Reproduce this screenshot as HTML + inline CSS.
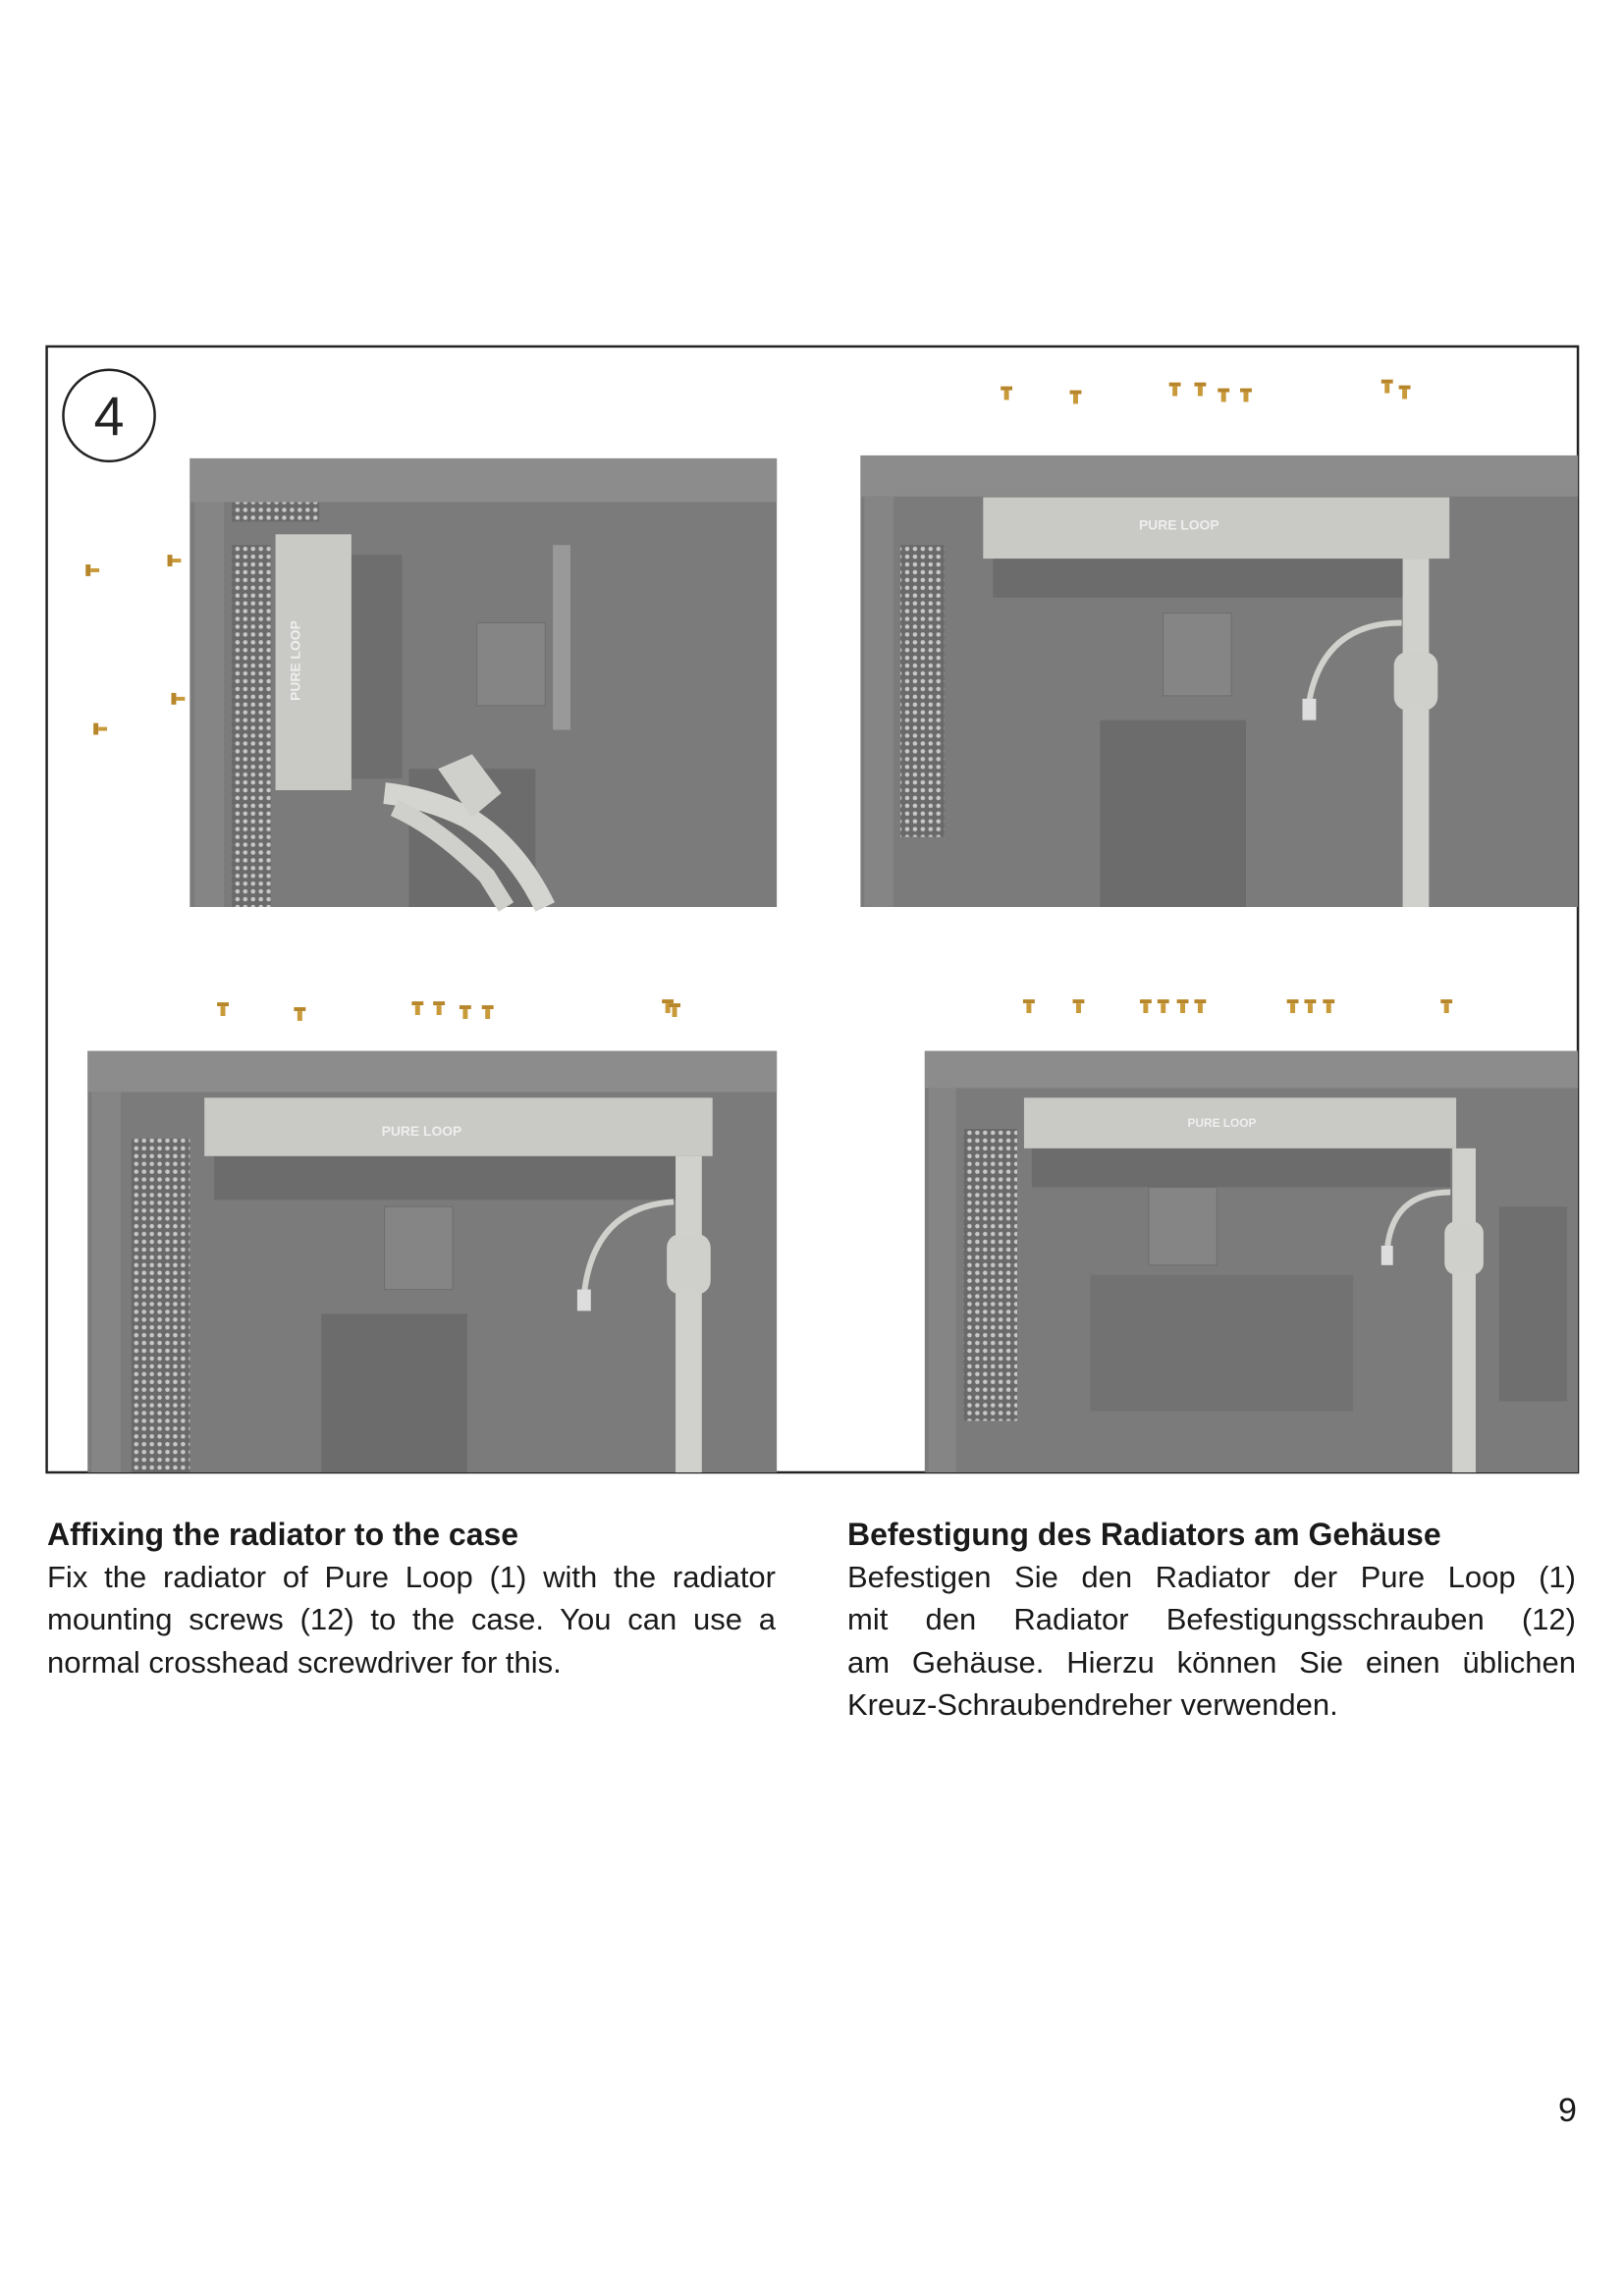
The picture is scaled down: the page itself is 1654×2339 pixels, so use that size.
<!DOCTYPE html>
<html><head><meta charset="utf-8"><style>
html,body{margin:0;padding:0;background:#fff}
body{width:1654px;height:2339px;position:relative;overflow:hidden;font-family:"Liberation Sans",Arial,sans-serif;color:#1a1a1a}
svg{position:absolute;left:0;top:0}
.col{position:absolute;font-size:31px;line-height:43.2px}
.col h3{margin:0;font-size:32px;font-weight:bold;line-height:43.2px;white-space:nowrap}
.col .j{text-align:justify;text-align-last:justify;white-space:nowrap}
.col .l{white-space:nowrap}
#pn{position:absolute;left:1587px;top:2131px;font-size:34px}
</style></head><body>
<svg width="1654" height="2339" viewBox="0 0 1654 2339">
<defs>
<pattern id="mesh" width="8" height="8" patternUnits="userSpaceOnUse"><rect width="8" height="8" fill="#6a6a6a"/><circle cx="4" cy="4" r="2.3" fill="#c8c8c8"/></pattern>
<g id="scr"><rect x="-6" y="-7" width="12" height="4" fill="#b8862a"/><rect x="-2.5" y="-3" width="5" height="10" fill="#c99a3a"/></g>
<g id="scrh"><rect x="-4" y="-6" width="5" height="12" fill="#b8862a"/><rect x="1" y="-2" width="9" height="4" fill="#c99a3a"/></g>
</defs>
<g transform="scale(0.9914)">
<rect x="48" y="356" width="1573" height="1157" fill="none" stroke="#222" stroke-width="2.5"/>
<circle cx="112" cy="427" r="47" fill="#fff" stroke="#222" stroke-width="2.5"/>
<text x="112" y="447" font-size="56" text-anchor="middle" font-family="Liberation Sans,sans-serif" fill="#222">4</text>

<g>
<rect x="195" y="471" width="603" height="461" fill="#7b7b7b"/>
<rect x="195" y="471" width="603" height="45" fill="#8c8c8c"/>
<rect x="200" y="516" width="30" height="416" fill="#858585"/>
<rect x="238" y="560" width="40" height="372" fill="url(#mesh)"/>
<rect x="238" y="516" width="90" height="20" fill="url(#mesh)"/>
<rect x="490" y="640" width="70" height="85" fill="#858585" stroke="#6e6e6e"/>
<rect x="568" y="560" width="18" height="190" fill="#999"/>
<rect x="420" y="790" width="130" height="142" fill="#6c6c6c"/>
<rect x="361" y="570" width="52" height="230" fill="#6e6e6e"/>
<rect x="283" y="549" width="78" height="263" fill="#c9c9c6"/>
<text x="308" y="720" font-size="14" fill="#eee" transform="rotate(-90 308 720)" font-weight="bold">PURE LOOP</text>
<path d="M395 815 Q440 820 480 840 Q530 870 560 932" stroke="#d4d4d0" stroke-width="22" fill="none"/>
<path d="M405 830 Q450 850 500 900 L520 932" stroke="#cfcfcb" stroke-width="18" fill="none"/>
<path d="M450 790 l35 -15 30 40 -30 25 z" fill="#cfcfcb"/>
</g>
<use href="#scrh" x="92" y="586"/><use href="#scrh" x="176" y="576"/><use href="#scrh" x="180" y="718"/><use href="#scrh" x="100" y="749"/>

<g>
<rect x="884" y="468" width="737" height="464" fill="#7b7b7b"/>
<rect x="884" y="468" width="737" height="42" fill="#8c8c8c"/>
<rect x="888" y="510" width="30" height="422" fill="#858585"/>
<rect x="925" y="560" width="45" height="300" fill="url(#mesh)"/>
<rect x="1020" y="574" width="430" height="40" fill="#6c6c6c"/>
<rect x="1195" y="630" width="70" height="85" fill="#858585" stroke="#6e6e6e"/>
<rect x="1130" y="740" width="150" height="192" fill="#6c6c6c"/>
<rect x="1010" y="511" width="479" height="63" fill="#c9c9c6"/>
<text x="1170" y="544" font-size="14" fill="#eee" font-weight="bold">PURE LOOP</text>
<rect x="1441" y="574" width="27" height="358" fill="#d0d0cc"/>
<rect x="1432" y="670" width="45" height="60" rx="14" fill="#cfcfcb"/>
<path d="M1440 640 Q1360 640 1345 720" stroke="#d0d0cc" stroke-width="6" fill="none"/>
<rect x="1338" y="718" width="14" height="22" fill="#ddd"/>
</g>
<use href="#scr" x="1034" y="404"/><use href="#scr" x="1105" y="408"/><use href="#scr" x="1207" y="400"/><use href="#scr" x="1233" y="400"/><use href="#scr" x="1257" y="406"/><use href="#scr" x="1280" y="406"/><use href="#scr" x="1425" y="397"/><use href="#scr" x="1443" y="403"/>

<g>
<rect x="90" y="1080" width="708" height="433" fill="#7b7b7b"/>
<rect x="90" y="1080" width="708" height="42" fill="#8c8c8c"/>
<rect x="94" y="1122" width="30" height="391" fill="#858585"/>
<rect x="135" y="1170" width="60" height="343" fill="url(#mesh)"/>
<rect x="220" y="1188" width="480" height="45" fill="#6c6c6c"/>
<rect x="395" y="1240" width="70" height="85" fill="#858585" stroke="#6e6e6e"/>
<rect x="330" y="1350" width="150" height="163" fill="#6c6c6c"/>
<rect x="210" y="1128" width="522" height="60" fill="#c9c9c6"/>
<text x="392" y="1167" font-size="14" fill="#eee" font-weight="bold">PURE LOOP</text>
<rect x="694" y="1188" width="27" height="325" fill="#d0d0cc"/>
<rect x="685" y="1268" width="45" height="62" rx="14" fill="#cfcfcb"/>
<path d="M692 1235 Q610 1240 600 1330" stroke="#d0d0cc" stroke-width="6" fill="none"/>
<rect x="593" y="1325" width="14" height="22" fill="#ddd"/>
</g>
<use href="#scr" x="229" y="1037"/><use href="#scr" x="308" y="1042"/><use href="#scr" x="429" y="1036"/><use href="#scr" x="451" y="1036"/><use href="#scr" x="478" y="1040"/><use href="#scr" x="501" y="1040"/><use href="#scr" x="686" y="1034"/><use href="#scr" x="693" y="1038"/>

<g>
<rect x="950" y="1080" width="671" height="433" fill="#7b7b7b"/>
<rect x="950" y="1080" width="671" height="38" fill="#8c8c8c"/>
<rect x="954" y="1118" width="28" height="395" fill="#858585"/>
<rect x="990" y="1160" width="55" height="300" fill="url(#mesh)"/>
<rect x="1060" y="1180" width="430" height="40" fill="#6c6c6c"/>
<rect x="1180" y="1220" width="70" height="80" fill="#858585" stroke="#6e6e6e"/>
<rect x="1120" y="1310" width="270" height="140" fill="#727272"/>
<rect x="1052" y="1128" width="444" height="52" fill="#c9c9c6"/>
<text x="1220" y="1158" font-size="12" fill="#eee" font-weight="bold">PURE LOOP</text>
<rect x="1492" y="1180" width="24" height="333" fill="#d0d0cc"/>
<rect x="1484" y="1255" width="40" height="55" rx="12" fill="#cfcfcb"/>
<path d="M1490 1225 Q1430 1225 1425 1285" stroke="#d0d0cc" stroke-width="6" fill="none"/>
<rect x="1419" y="1280" width="12" height="20" fill="#ddd"/>
<rect x="1540" y="1240" width="70" height="200" fill="#6f6f6f"/>
</g>
<use href="#scr" x="1057" y="1034"/><use href="#scr" x="1108" y="1034"/><use href="#scr" x="1177" y="1034"/><use href="#scr" x="1195" y="1034"/><use href="#scr" x="1215" y="1034"/><use href="#scr" x="1233" y="1034"/><use href="#scr" x="1328" y="1034"/><use href="#scr" x="1346" y="1034"/><use href="#scr" x="1365" y="1034"/><use href="#scr" x="1486" y="1034"/>
</g>
</svg>

<div class="col" style="left:48px;top:1542px;width:742px">
<h3>Affixing the radiator to the case</h3>
<div class="j">Fix the radiator of Pure Loop (1) with the radiator</div>
<div class="j">mounting screws (12) to the case. You can use a</div>
<div class="l">normal crosshead screwdriver for this.</div>
</div>
<div class="col" style="left:863px;top:1542px;width:742px">
<h3>Befestigung des Radiators am Gehäuse</h3>
<div class="j">Befestigen Sie den Radiator der Pure Loop (1)</div>
<div class="j">mit den Radiator Befestigungsschrauben (12)</div>
<div class="j">am Gehäuse. Hierzu können Sie einen üblichen</div>
<div class="l">Kreuz-Schraubendreher verwenden.</div>
</div>
<div id="pn">9</div>
</body></html>
